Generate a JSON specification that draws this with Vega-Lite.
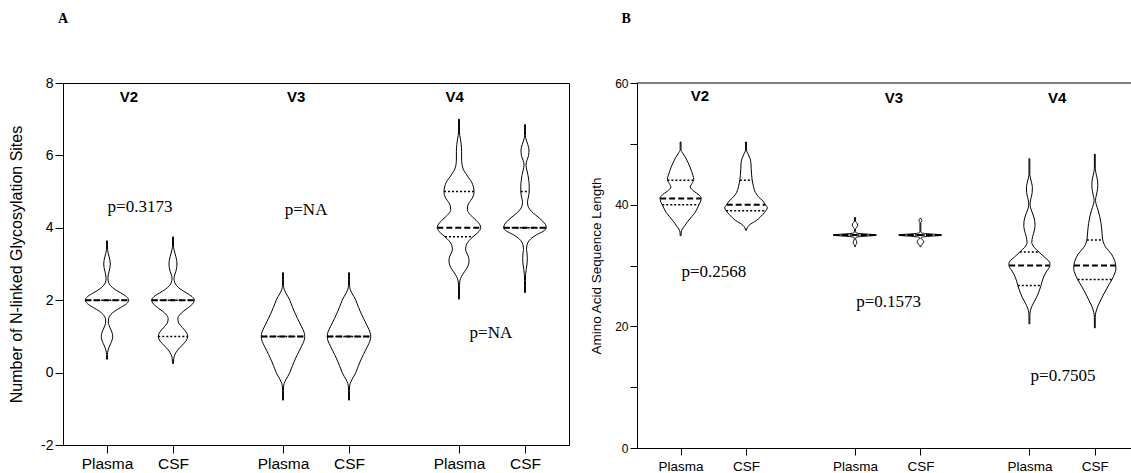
{
"$schema": "https://vega.github.io/schema/vega-lite/v6.json",
"padding": {"left": 8, "top": 11, "right": 0, "bottom": 0},
"autosize": {"type": "pad"},
"background": "white",
"config": {"font": "Liberation Sans", "view": {"stroke": null}, "axis": {"grid": false, "domainColor": "black", "tickColor": "black", "labelColor": "black", "titleColor": "black", "labelFont": "Liberation Sans", "titleFont": "Liberation Sans", "titleFontWeight": "normal", "labelOverlap": false, "labelFlush": false}},
"datasets": {
"vA": [
{"id":"a1","y":0.37,"x":1.98,"x2":2.02},{"id":"a1","y":0.5,"x":1.98,"x2":2.02},{"id":"a1","y":0.6,"x":1.958,"x2":2.042},{"id":"a1","y":0.7,"x":1.907,"x2":2.093},{"id":"a1","y":0.8,"x":1.835,"x2":2.165},{"id":"a1","y":0.9,"x":1.768,"x2":2.232},{"id":"a1","y":1.0,"x":1.741,"x2":2.259},{"id":"a1","y":1.1,"x":1.768,"x2":2.232},{"id":"a1","y":1.2,"x":1.834,"x2":2.166},{"id":"a1","y":1.3,"x":1.903,"x2":2.097},{"id":"a1","y":1.4,"x":1.941,"x2":2.059},{"id":"a1","y":1.5,"x":1.926,"x2":2.074},{"id":"a1","y":1.6,"x":1.834,"x2":2.166},{"id":"a1","y":1.7,"x":1.645,"x2":2.355},{"id":"a1","y":1.8,"x":1.373,"x2":2.627},{"id":"a1","y":1.9,"x":1.118,"x2":2.882},{"id":"a1","y":2.0,"x":1.013,"x2":2.987},{"id":"a1","y":2.1,"x":1.118,"x2":2.882},{"id":"a1","y":2.2,"x":1.373,"x2":2.627},{"id":"a1","y":2.3,"x":1.644,"x2":2.356},{"id":"a1","y":2.4,"x":1.836,"x2":2.164},{"id":"a1","y":2.5,"x":1.933,"x2":2.067},{"id":"a1","y":2.6,"x":1.959,"x2":2.041},{"id":"a1","y":2.7,"x":1.942,"x2":2.058},{"id":"a1","y":2.8,"x":1.904,"x2":2.096},{"id":"a1","y":2.9,"x":1.866,"x2":2.134},{"id":"a1","y":3.0,"x":1.85,"x2":2.15},{"id":"a1","y":3.1,"x":1.866,"x2":2.134},{"id":"a1","y":3.2,"x":1.904,"x2":2.096},{"id":"a1","y":3.3,"x":1.946,"x2":2.054},{"id":"a1","y":3.4,"x":1.975,"x2":2.025},{"id":"a1","y":3.5,"x":1.98,"x2":2.02},{"id":"a1","y":3.64,"x":1.98,"x2":2.02},
{"id":"a2","y":0.25,"x":4.98,"x2":5.02},{"id":"a2","y":0.4,"x":4.963,"x2":5.037},{"id":"a2","y":0.5,"x":4.91,"x2":5.09},{"id":"a2","y":0.6,"x":4.814,"x2":5.186},{"id":"a2","y":0.7,"x":4.674,"x2":5.326},{"id":"a2","y":0.8,"x":4.515,"x2":5.485},{"id":"a2","y":0.9,"x":4.383,"x2":5.617},{"id":"a2","y":1.0,"x":4.331,"x2":5.669},{"id":"a2","y":1.1,"x":4.381,"x2":5.619},{"id":"a2","y":1.2,"x":4.509,"x2":5.491},{"id":"a2","y":1.3,"x":4.655,"x2":5.345},{"id":"a2","y":1.4,"x":4.76,"x2":5.24},{"id":"a2","y":1.5,"x":4.779,"x2":5.221},{"id":"a2","y":1.6,"x":4.693,"x2":5.307},{"id":"a2","y":1.7,"x":4.515,"x2":5.485},{"id":"a2","y":1.8,"x":4.292,"x2":5.708},{"id":"a2","y":1.9,"x":4.105,"x2":5.895},{"id":"a2","y":2.0,"x":4.031,"x2":5.969},{"id":"a2","y":2.1,"x":4.135,"x2":5.865},{"id":"a2","y":2.2,"x":4.386,"x2":5.614},{"id":"a2","y":2.3,"x":4.65,"x2":5.35},{"id":"a2","y":2.4,"x":4.836,"x2":5.164},{"id":"a2","y":2.5,"x":4.927,"x2":5.073},{"id":"a2","y":2.6,"x":4.954,"x2":5.046},{"id":"a2","y":2.7,"x":4.927,"x2":5.073},{"id":"a2","y":2.8,"x":4.868,"x2":5.132},{"id":"a2","y":2.9,"x":4.832,"x2":5.168},{"id":"a2","y":3.0,"x":4.818,"x2":5.182},{"id":"a2","y":3.1,"x":4.832,"x2":5.168},{"id":"a2","y":3.2,"x":4.868,"x2":5.132},{"id":"a2","y":3.3,"x":4.914,"x2":5.086},{"id":"a2","y":3.4,"x":4.954,"x2":5.046},{"id":"a2","y":3.5,"x":4.977,"x2":5.023},{"id":"a2","y":3.75,"x":4.98,"x2":5.02},
{"id":"a3","y":-0.76,"x":9.98,"x2":10.02},{"id":"a3","y":-0.5,"x":9.98,"x2":10.02},{"id":"a3","y":-0.4,"x":9.975,"x2":10.025},{"id":"a3","y":-0.3,"x":9.945,"x2":10.055},{"id":"a3","y":-0.2,"x":9.873,"x2":10.127},{"id":"a3","y":-0.1,"x":9.777,"x2":10.223},{"id":"a3","y":0.0,"x":9.691,"x2":10.309},{"id":"a3","y":0.1,"x":9.627,"x2":10.373},{"id":"a3","y":0.2,"x":9.563,"x2":10.437},{"id":"a3","y":0.3,"x":9.495,"x2":10.505},{"id":"a3","y":0.4,"x":9.422,"x2":10.578},{"id":"a3","y":0.5,"x":9.345,"x2":10.655},{"id":"a3","y":0.6,"x":9.263,"x2":10.737},{"id":"a3","y":0.7,"x":9.181,"x2":10.819},{"id":"a3","y":0.8,"x":9.099,"x2":10.901},{"id":"a3","y":0.9,"x":9.035,"x2":10.965},{"id":"a3","y":1.0,"x":9.013,"x2":10.987},{"id":"a3","y":1.1,"x":9.035,"x2":10.965},{"id":"a3","y":1.2,"x":9.099,"x2":10.901},{"id":"a3","y":1.3,"x":9.181,"x2":10.819},{"id":"a3","y":1.4,"x":9.263,"x2":10.737},{"id":"a3","y":1.5,"x":9.345,"x2":10.655},{"id":"a3","y":1.6,"x":9.422,"x2":10.578},{"id":"a3","y":1.7,"x":9.495,"x2":10.505},{"id":"a3","y":1.8,"x":9.563,"x2":10.437},{"id":"a3","y":1.9,"x":9.627,"x2":10.373},{"id":"a3","y":2.0,"x":9.691,"x2":10.309},{"id":"a3","y":2.1,"x":9.777,"x2":10.223},{"id":"a3","y":2.2,"x":9.873,"x2":10.127},{"id":"a3","y":2.3,"x":9.945,"x2":10.055},{"id":"a3","y":2.4,"x":9.975,"x2":10.025},{"id":"a3","y":2.5,"x":9.98,"x2":10.02},{"id":"a3","y":2.76,"x":9.98,"x2":10.02},
{"id":"a4","y":-0.76,"x":12.98,"x2":13.02},{"id":"a4","y":-0.5,"x":12.98,"x2":13.02},{"id":"a4","y":-0.4,"x":12.975,"x2":13.025},{"id":"a4","y":-0.3,"x":12.945,"x2":13.055},{"id":"a4","y":-0.2,"x":12.873,"x2":13.127},{"id":"a4","y":-0.1,"x":12.777,"x2":13.223},{"id":"a4","y":0.0,"x":12.691,"x2":13.309},{"id":"a4","y":0.1,"x":12.627,"x2":13.373},{"id":"a4","y":0.2,"x":12.563,"x2":13.437},{"id":"a4","y":0.3,"x":12.495,"x2":13.505},{"id":"a4","y":0.4,"x":12.422,"x2":13.578},{"id":"a4","y":0.5,"x":12.345,"x2":13.655},{"id":"a4","y":0.6,"x":12.263,"x2":13.737},{"id":"a4","y":0.7,"x":12.181,"x2":13.819},{"id":"a4","y":0.8,"x":12.099,"x2":13.901},{"id":"a4","y":0.9,"x":12.035,"x2":13.965},{"id":"a4","y":1.0,"x":12.013,"x2":13.987},{"id":"a4","y":1.1,"x":12.035,"x2":13.965},{"id":"a4","y":1.2,"x":12.099,"x2":13.901},{"id":"a4","y":1.3,"x":12.181,"x2":13.819},{"id":"a4","y":1.4,"x":12.263,"x2":13.737},{"id":"a4","y":1.5,"x":12.345,"x2":13.655},{"id":"a4","y":1.6,"x":12.422,"x2":13.578},{"id":"a4","y":1.7,"x":12.495,"x2":13.505},{"id":"a4","y":1.8,"x":12.563,"x2":13.437},{"id":"a4","y":1.9,"x":12.627,"x2":13.373},{"id":"a4","y":2.0,"x":12.691,"x2":13.309},{"id":"a4","y":2.1,"x":12.777,"x2":13.223},{"id":"a4","y":2.2,"x":12.873,"x2":13.127},{"id":"a4","y":2.3,"x":12.945,"x2":13.055},{"id":"a4","y":2.4,"x":12.975,"x2":13.025},{"id":"a4","y":2.5,"x":12.98,"x2":13.02},{"id":"a4","y":2.76,"x":12.98,"x2":13.02},
{"id":"a5","y":2.03,"x":17.98,"x2":18.02},{"id":"a5","y":2.4,"x":17.98,"x2":18.02},{"id":"a5","y":2.5,"x":17.968,"x2":18.032},{"id":"a5","y":2.6,"x":17.927,"x2":18.073},{"id":"a5","y":2.7,"x":17.845,"x2":18.155},{"id":"a5","y":2.8,"x":17.736,"x2":18.264},{"id":"a5","y":2.9,"x":17.627,"x2":18.373},{"id":"a5","y":3.0,"x":17.563,"x2":18.437},{"id":"a5","y":3.1,"x":17.545,"x2":18.455},{"id":"a5","y":3.2,"x":17.572,"x2":18.428},{"id":"a5","y":3.3,"x":17.645,"x2":18.355},{"id":"a5","y":3.4,"x":17.7,"x2":18.3},{"id":"a5","y":3.5,"x":17.681,"x2":18.319},{"id":"a5","y":3.6,"x":17.6,"x2":18.4},{"id":"a5","y":3.7,"x":17.454,"x2":18.546},{"id":"a5","y":3.8,"x":17.272,"x2":18.728},{"id":"a5","y":3.9,"x":17.09,"x2":18.91},{"id":"a5","y":4.0,"x":17.013,"x2":18.987},{"id":"a5","y":4.1,"x":17.067,"x2":18.933},{"id":"a5","y":4.2,"x":17.213,"x2":18.787},{"id":"a5","y":4.3,"x":17.386,"x2":18.614},{"id":"a5","y":4.4,"x":17.545,"x2":18.455},{"id":"a5","y":4.5,"x":17.618,"x2":18.382},{"id":"a5","y":4.6,"x":17.609,"x2":18.391},{"id":"a5","y":4.7,"x":17.531,"x2":18.469},{"id":"a5","y":4.8,"x":17.418,"x2":18.582},{"id":"a5","y":4.9,"x":17.34,"x2":18.66},{"id":"a5","y":5.0,"x":17.317,"x2":18.683},{"id":"a5","y":5.1,"x":17.336,"x2":18.664},{"id":"a5","y":5.2,"x":17.381,"x2":18.619},{"id":"a5","y":5.3,"x":17.463,"x2":18.537},{"id":"a5","y":5.4,"x":17.581,"x2":18.419},{"id":"a5","y":5.5,"x":17.691,"x2":18.309},{"id":"a5","y":5.62,"x":17.809,"x2":18.191},{"id":"a5","y":5.75,"x":17.863,"x2":18.137},{"id":"a5","y":5.9,"x":17.882,"x2":18.118},{"id":"a5","y":6.1,"x":17.882,"x2":18.118},{"id":"a5","y":6.3,"x":17.9,"x2":18.1},{"id":"a5","y":6.45,"x":17.932,"x2":18.068},{"id":"a5","y":6.55,"x":17.964,"x2":18.036},{"id":"a5","y":6.65,"x":17.98,"x2":18.02},{"id":"a5","y":7.0,"x":17.98,"x2":18.02},
{"id":"a6","y":2.21,"x":20.98,"x2":21.02},{"id":"a6","y":2.55,"x":20.98,"x2":21.02},{"id":"a6","y":2.7,"x":20.973,"x2":21.027},{"id":"a6","y":2.85,"x":20.945,"x2":21.055},{"id":"a6","y":3.0,"x":20.909,"x2":21.091},{"id":"a6","y":3.15,"x":20.895,"x2":21.105},{"id":"a6","y":3.3,"x":20.909,"x2":21.091},{"id":"a6","y":3.4,"x":20.932,"x2":21.068},{"id":"a6","y":3.5,"x":20.918,"x2":21.082},{"id":"a6","y":3.6,"x":20.863,"x2":21.137},{"id":"a6","y":3.7,"x":20.727,"x2":21.273},{"id":"a6","y":3.8,"x":20.499,"x2":21.501},{"id":"a6","y":3.9,"x":20.181,"x2":21.819},{"id":"a6","y":4.0,"x":20.031,"x2":21.969},{"id":"a6","y":4.1,"x":20.076,"x2":21.924},{"id":"a6","y":4.2,"x":20.226,"x2":21.774},{"id":"a6","y":4.3,"x":20.408,"x2":21.592},{"id":"a6","y":4.4,"x":20.613,"x2":21.387},{"id":"a6","y":4.5,"x":20.772,"x2":21.228},{"id":"a6","y":4.6,"x":20.863,"x2":21.137},{"id":"a6","y":4.72,"x":20.886,"x2":21.114},{"id":"a6","y":4.85,"x":20.845,"x2":21.155},{"id":"a6","y":5.0,"x":20.809,"x2":21.191},{"id":"a6","y":5.15,"x":20.809,"x2":21.191},{"id":"a6","y":5.3,"x":20.827,"x2":21.173},{"id":"a6","y":5.45,"x":20.863,"x2":21.137},{"id":"a6","y":5.6,"x":20.918,"x2":21.082},{"id":"a6","y":5.72,"x":20.954,"x2":21.046},{"id":"a6","y":5.8,"x":20.945,"x2":21.055},{"id":"a6","y":5.9,"x":20.891,"x2":21.109},{"id":"a6","y":6.0,"x":20.836,"x2":21.164},{"id":"a6","y":6.15,"x":20.818,"x2":21.182},{"id":"a6","y":6.3,"x":20.873,"x2":21.127},{"id":"a6","y":6.45,"x":20.954,"x2":21.046},{"id":"a6","y":6.55,"x":20.98,"x2":21.02},{"id":"a6","y":6.85,"x":20.98,"x2":21.02}
],
"qA": [
{"id":"a1","y":2,"x":1.013,"x2":2.987},{"id":"a2","y":1,"x":4.331,"x2":5.669},{"id":"a2","y":2,"x":4.031,"x2":5.969},{"id":"a3","y":1,"x":9.013,"x2":10.987},{"id":"a4","y":1,"x":12.013,"x2":13.987},{"id":"a5","y":3.75,"x":17.363,"x2":18.637},{"id":"a5","y":5,"x":17.317,"x2":18.683},{"id":"a6","y":4,"x":20.031,"x2":21.969},{"id":"a6","y":5,"x":20.809,"x2":21.191}
],
"mA": [
{"id":"a1","y":2,"x":1.013,"x2":2.987},{"id":"a2","y":2,"x":4.031,"x2":5.969},{"id":"a3","y":1,"x":9.013,"x2":10.987},{"id":"a4","y":1,"x":12.013,"x2":13.987},{"id":"a5","y":4,"x":17.013,"x2":18.987},{"id":"a6","y":4,"x":20.031,"x2":21.969}
],
"vB": [
{"id":"b1","y":34.9,"x":1.98,"x2":2.02},{"id":"b1","y":35.5,"x":1.973,"x2":2.027},{"id":"b1","y":36.0,"x":1.918,"x2":2.082},{"id":"b1","y":36.5,"x":1.818,"x2":2.182},{"id":"b1","y":37.2,"x":1.681,"x2":2.319},{"id":"b1","y":38.0,"x":1.499,"x2":2.501},{"id":"b1","y":38.7,"x":1.34,"x2":2.66},{"id":"b1","y":39.3,"x":1.249,"x2":2.751},{"id":"b1","y":40.0,"x":1.158,"x2":2.842},{"id":"b1","y":40.6,"x":1.076,"x2":2.924},{"id":"b1","y":41.1,"x":1.058,"x2":2.942},{"id":"b1","y":41.6,"x":1.158,"x2":2.842},{"id":"b1","y":42.2,"x":1.386,"x2":2.614},{"id":"b1","y":42.9,"x":1.554,"x2":2.446},{"id":"b1","y":43.5,"x":1.477,"x2":2.523},{"id":"b1","y":44.1,"x":1.395,"x2":2.605},{"id":"b1","y":44.8,"x":1.431,"x2":2.569},{"id":"b1","y":45.5,"x":1.499,"x2":2.501},{"id":"b1","y":46.2,"x":1.568,"x2":2.432},{"id":"b1","y":47.0,"x":1.668,"x2":2.332},{"id":"b1","y":47.8,"x":1.782,"x2":2.218},{"id":"b1","y":48.5,"x":1.909,"x2":2.091},{"id":"b1","y":49.0,"x":1.98,"x2":2.02},{"id":"b1","y":50.3,"x":1.98,"x2":2.02},
{"id":"b2","y":35.8,"x":4.98,"x2":5.02},{"id":"b2","y":36.2,"x":4.945,"x2":5.055},{"id":"b2","y":36.6,"x":4.863,"x2":5.137},{"id":"b2","y":37.0,"x":4.704,"x2":5.296},{"id":"b2","y":37.4,"x":4.522,"x2":5.478},{"id":"b2","y":37.9,"x":4.363,"x2":5.637},{"id":"b2","y":38.4,"x":4.226,"x2":5.774},{"id":"b2","y":39.0,"x":4.09,"x2":5.91},{"id":"b2","y":39.5,"x":4.022,"x2":5.978},{"id":"b2","y":40.0,"x":4.113,"x2":5.887},{"id":"b2","y":40.6,"x":4.226,"x2":5.774},{"id":"b2","y":41.3,"x":4.431,"x2":5.569},{"id":"b2","y":42.0,"x":4.568,"x2":5.432},{"id":"b2","y":43.0,"x":4.659,"x2":5.341},{"id":"b2","y":44.1,"x":4.718,"x2":5.282},{"id":"b2","y":45.0,"x":4.745,"x2":5.255},{"id":"b2","y":46.0,"x":4.763,"x2":5.237},{"id":"b2","y":46.8,"x":4.772,"x2":5.228},{"id":"b2","y":47.6,"x":4.818,"x2":5.182},{"id":"b2","y":48.4,"x":4.918,"x2":5.082},{"id":"b2","y":49.0,"x":4.98,"x2":5.02},{"id":"b2","y":50.3,"x":4.98,"x2":5.02},
{"id":"b3","y":33.1,"x":9.98,"x2":10.02},{"id":"b3","y":33.3,"x":9.977,"x2":10.023},{"id":"b3","y":33.5,"x":9.945,"x2":10.055},{"id":"b3","y":33.75,"x":9.918,"x2":10.082},{"id":"b3","y":34.0,"x":9.927,"x2":10.073},{"id":"b3","y":34.2,"x":9.959,"x2":10.041},{"id":"b3","y":34.45,"x":9.973,"x2":10.027},{"id":"b3","y":34.6,"x":9.959,"x2":10.041},{"id":"b3","y":34.7,"x":9.868,"x2":10.132},{"id":"b3","y":34.8,"x":9.595,"x2":10.405},{"id":"b3","y":34.9,"x":9.208,"x2":10.792},{"id":"b3","y":35.0,"x":9.013,"x2":10.987},{"id":"b3","y":35.1,"x":9.208,"x2":10.792},{"id":"b3","y":35.2,"x":9.595,"x2":10.405},{"id":"b3","y":35.3,"x":9.868,"x2":10.132},{"id":"b3","y":35.4,"x":9.959,"x2":10.041},{"id":"b3","y":35.6,"x":9.973,"x2":10.027},{"id":"b3","y":35.9,"x":9.98,"x2":10.02},{"id":"b3","y":36.1,"x":9.964,"x2":10.036},{"id":"b3","y":36.35,"x":9.909,"x2":10.091},{"id":"b3","y":36.6,"x":9.877,"x2":10.123},{"id":"b3","y":36.85,"x":9.886,"x2":10.114},{"id":"b3","y":37.1,"x":9.945,"x2":10.055},{"id":"b3","y":37.3,"x":9.98,"x2":10.02},{"id":"b3","y":37.9,"x":9.98,"x2":10.02},
{"id":"b4","y":33.1,"x":12.98,"x2":13.02},{"id":"b4","y":33.25,"x":12.977,"x2":13.023},{"id":"b4","y":33.4,"x":12.941,"x2":13.059},{"id":"b4","y":33.6,"x":12.882,"x2":13.118},{"id":"b4","y":33.85,"x":12.85,"x2":13.15},{"id":"b4","y":34.1,"x":12.868,"x2":13.132},{"id":"b4","y":34.3,"x":12.932,"x2":13.068},{"id":"b4","y":34.45,"x":12.973,"x2":13.027},{"id":"b4","y":34.6,"x":12.959,"x2":13.041},{"id":"b4","y":34.7,"x":12.868,"x2":13.132},{"id":"b4","y":34.8,"x":12.595,"x2":13.405},{"id":"b4","y":34.9,"x":12.208,"x2":13.792},{"id":"b4","y":35.0,"x":12.013,"x2":13.987},{"id":"b4","y":35.1,"x":12.208,"x2":13.792},{"id":"b4","y":35.2,"x":12.595,"x2":13.405},{"id":"b4","y":35.3,"x":12.868,"x2":13.132},{"id":"b4","y":35.4,"x":12.959,"x2":13.041},{"id":"b4","y":35.5,"x":12.98,"x2":13.02},{"id":"b4","y":37.05,"x":12.98,"x2":13.02},{"id":"b4","y":37.2,"x":12.954,"x2":13.046},{"id":"b4","y":37.4,"x":12.936,"x2":13.064},{"id":"b4","y":37.6,"x":12.954,"x2":13.046},{"id":"b4","y":37.75,"x":12.98,"x2":13.02},
{"id":"b5","y":20.4,"x":17.98,"x2":18.02},{"id":"b5","y":21.8,"x":17.98,"x2":18.02},{"id":"b5","y":22.6,"x":17.954,"x2":18.046},{"id":"b5","y":23.0,"x":17.918,"x2":18.082},{"id":"b5","y":23.8,"x":17.818,"x2":18.182},{"id":"b5","y":24.8,"x":17.668,"x2":18.332},{"id":"b5","y":25.8,"x":17.554,"x2":18.446},{"id":"b5","y":26.7,"x":17.468,"x2":18.532},{"id":"b5","y":27.4,"x":17.418,"x2":18.582},{"id":"b5","y":28.1,"x":17.349,"x2":18.651},{"id":"b5","y":29.1,"x":17.204,"x2":18.796},{"id":"b5","y":29.8,"x":17.076,"x2":18.924},{"id":"b5","y":30.3,"x":17.058,"x2":18.942},{"id":"b5","y":30.8,"x":17.126,"x2":18.874},{"id":"b5","y":31.4,"x":17.317,"x2":18.683},{"id":"b5","y":32.2,"x":17.559,"x2":18.441},{"id":"b5","y":33.0,"x":17.782,"x2":18.218},{"id":"b5","y":33.8,"x":17.891,"x2":18.109},{"id":"b5","y":34.8,"x":17.85,"x2":18.15},{"id":"b5","y":35.8,"x":17.772,"x2":18.228},{"id":"b5","y":36.6,"x":17.741,"x2":18.259},{"id":"b5","y":37.3,"x":17.754,"x2":18.246},{"id":"b5","y":38.3,"x":17.827,"x2":18.173},{"id":"b5","y":39.3,"x":17.932,"x2":18.068},{"id":"b5","y":39.9,"x":17.968,"x2":18.032},{"id":"b5","y":40.4,"x":17.964,"x2":18.036},{"id":"b5","y":41.2,"x":17.918,"x2":18.082},{"id":"b5","y":42.0,"x":17.873,"x2":18.127},{"id":"b5","y":42.8,"x":17.863,"x2":18.137},{"id":"b5","y":43.6,"x":17.9,"x2":18.1},{"id":"b5","y":44.4,"x":17.954,"x2":18.046},{"id":"b5","y":45.0,"x":17.98,"x2":18.02},{"id":"b5","y":47.55,"x":17.98,"x2":18.02},
{"id":"b6","y":19.75,"x":20.98,"x2":21.02},{"id":"b6","y":21.5,"x":20.98,"x2":21.02},{"id":"b6","y":22.3,"x":20.954,"x2":21.046},{"id":"b6","y":23.0,"x":20.895,"x2":21.105},{"id":"b6","y":24.0,"x":20.772,"x2":21.228},{"id":"b6","y":25.3,"x":20.59,"x2":21.41},{"id":"b6","y":26.5,"x":20.408,"x2":21.592},{"id":"b6","y":27.7,"x":20.213,"x2":21.787},{"id":"b6","y":28.6,"x":20.099,"x2":21.901},{"id":"b6","y":29.45,"x":20.031,"x2":21.969},{"id":"b6","y":30.1,"x":20.044,"x2":21.956},{"id":"b6","y":30.8,"x":20.09,"x2":21.91},{"id":"b6","y":31.9,"x":20.24,"x2":21.76},{"id":"b6","y":33.0,"x":20.499,"x2":21.501},{"id":"b6","y":34.2,"x":20.636,"x2":21.364},{"id":"b6","y":35.5,"x":20.672,"x2":21.328},{"id":"b6","y":36.9,"x":20.713,"x2":21.287},{"id":"b6","y":38.0,"x":20.772,"x2":21.228},{"id":"b6","y":39.0,"x":20.841,"x2":21.159},{"id":"b6","y":40.0,"x":20.932,"x2":21.068},{"id":"b6","y":40.7,"x":20.968,"x2":21.032},{"id":"b6","y":41.3,"x":20.945,"x2":21.055},{"id":"b6","y":42.2,"x":20.891,"x2":21.109},{"id":"b6","y":43.2,"x":20.863,"x2":21.137},{"id":"b6","y":44.2,"x":20.886,"x2":21.114},{"id":"b6","y":45.3,"x":20.954,"x2":21.046},{"id":"b6","y":46.0,"x":20.98,"x2":21.02},{"id":"b6","y":48.3,"x":20.98,"x2":21.02}
],
"qB": [
{"id":"b1","y":40,"x":1.158,"x2":2.842},{"id":"b1","y":44,"x":1.395,"x2":2.605},{"id":"b2","y":39,"x":4.09,"x2":5.91},{"id":"b2","y":44,"x":4.718,"x2":5.282},{"id":"b3","y":35,"x":9.013,"x2":10.987},{"id":"b4","y":35,"x":12.013,"x2":13.987},{"id":"b5","y":26.7,"x":17.468,"x2":18.532},{"id":"b5","y":32.2,"x":17.559,"x2":18.441},{"id":"b6","y":27.7,"x":20.213,"x2":21.787},{"id":"b6","y":34.2,"x":20.636,"x2":21.364}
],
"mB": [
{"id":"b1","y":41,"x":1.063,"x2":2.937},{"id":"b2","y":40,"x":4.113,"x2":5.887},{"id":"b3","y":35,"x":9.013,"x2":10.987},{"id":"b4","y":35,"x":12.013,"x2":13.987},{"id":"b5","y":30,"x":17.07,"x2":18.93},{"id":"b6","y":30,"x":20.044,"x2":21.956}
]
},
"hconcat": [
{
"width": 506, "height": 362,
"view": {"stroke": "black", "strokeWidth": 1},
"encoding": {
"x": {"field": "x", "type": "quantitative", "scale": {"domain": [0, 23], "nice": false, "zero": false},
"axis": {"values": [2, 5, 10, 13, 18, 21], "labelExpr": "(datum.value == 2 || datum.value == 10 || datum.value == 18) ? 'Plasma' : 'CSF'", "title": null, "tickSize": 8, "labelFontSize": 15.5, "labelPadding": 3}},
"y": {"field": "y", "type": "quantitative", "scale": {"domain": [-2, 8], "nice": false, "zero": false},
"axis": {"values": [-2, 0, 2, 4, 6, 8], "labelExpr": "'' + datum.value", "title": "Number of N-linked Glycosylation Sites", "titleFontSize": 16, "titlePadding": 16, "labelFontSize": 14, "tickSize": 8, "labelPadding": 2}}
},
"layer": [
{"data": {"name": "vA"}, "mark": {"type": "area", "orient": "horizontal", "interpolate": "monotone", "fill": "white", "stroke": "black", "strokeWidth": 1}, "encoding": {"x2": {"field": "x2"}, "detail": {"field": "id", "type": "nominal"}}},
{"data": {"name": "qA"}, "mark": {"type": "rule", "color": "black", "strokeWidth": 1.5, "strokeDash": [2, 2]}, "encoding": {"x2": {"field": "x2"}}},
{"data": {"name": "mA"}, "mark": {"type": "rule", "color": "black", "strokeWidth": 2, "strokeDash": [6, 3]}, "encoding": {"x2": {"field": "x2"}}},
{"data": {"values": [{"t": "V2", "x": 3.0, "y": 7.62}, {"t": "V3", "x": 10.6, "y": 7.62}, {"t": "V4", "x": 17.8, "y": 7.62}]}, "mark": {"type": "text", "font": "Liberation Sans", "fontWeight": "bold", "fontSize": 15, "color": "black", "baseline": "middle", "align": "center"}, "encoding": {"text": {"field": "t"}}},
{"data": {"values": [{"t": "p=0.3173", "x": 3.5, "y": 4.58}, {"t": "p=NA", "x": 11.05, "y": 4.5}, {"t": "p=NA", "x": 19.45, "y": 1.1}]}, "mark": {"type": "text", "font": "Liberation Serif", "fontSize": 17, "color": "black", "baseline": "middle", "align": "center"}, "encoding": {"text": {"field": "t"}}},
{"data": {"values": [{"t": "A", "x": 0.0, "y": 9.78}]}, "mark": {"type": "text", "font": "Liberation Serif", "fontWeight": "bold", "fontSize": 14, "color": "black", "baseline": "middle", "align": "center"}, "encoding": {"text": {"field": "t"}}}
]
},
{
"width": 494, "height": 365,
"encoding": {
"x": {"field": "x", "type": "quantitative", "scale": {"domain": [0, 22.66], "nice": false, "zero": false},
"axis": {"values": [2, 5, 10, 13, 18, 21], "labelExpr": "(datum.value == 2 || datum.value == 10 || datum.value == 18) ? 'Plasma' : 'CSF'", "title": null, "tickSize": 7, "labelFontSize": 13.5, "labelPadding": 4}},
"y": {"field": "y", "type": "quantitative", "scale": {"domain": [0, 60], "nice": false, "zero": false},
"axis": {"values": [0, 10, 20, 30, 40, 50, 60], "labelExpr": "datum.value % 20 == 0 ? '' + datum.value : ''", "title": "Amino Acid Sequence Length", "titleFontSize": 13.5, "titlePadding": 11, "labelFontSize": 12, "tickSize": 7, "labelPadding": 2}}
},
"layer": [
{"data": {"values": [{"x": 0, "x2": 22.66, "y": 60}]}, "mark": {"type": "rule", "color": "black", "strokeWidth": 1}, "encoding": {"x2": {"field": "x2"}}},
{"data": {"name": "vB"}, "mark": {"type": "area", "orient": "horizontal", "interpolate": "monotone", "fill": "white", "stroke": "black", "strokeWidth": 1}, "encoding": {"x2": {"field": "x2"}, "detail": {"field": "id", "type": "nominal"}}},
{"data": {"name": "qB"}, "mark": {"type": "rule", "color": "black", "strokeWidth": 1.5, "strokeDash": [2, 2]}, "encoding": {"x2": {"field": "x2"}}},
{"data": {"name": "mB"}, "mark": {"type": "rule", "color": "black", "strokeWidth": 2, "strokeDash": [6, 3]}, "encoding": {"x2": {"field": "x2"}}},
{"data": {"values": [{"t": "V2", "x": 2.89, "y": 57.8}, {"t": "V3", "x": 11.79, "y": 57.6}, {"t": "V4", "x": 19.27, "y": 57.6}]}, "mark": {"type": "text", "font": "Liberation Sans", "fontWeight": "bold", "fontSize": 15, "color": "black", "baseline": "middle", "align": "center"}, "encoding": {"text": {"field": "t"}}},
{"data": {"values": [{"t": "p=0.2568", "x": 3.53, "y": 29.0}, {"t": "p=0.1573", "x": 11.54, "y": 24.07}, {"t": "p=0.7505", "x": 19.54, "y": 11.9}]}, "mark": {"type": "text", "font": "Liberation Serif", "fontSize": 17, "color": "black", "baseline": "middle", "align": "center"}, "encoding": {"text": {"field": "t"}}},
{"data": {"values": [{"t": "B", "x": -0.5, "y": 70.6}]}, "mark": {"type": "text", "font": "Liberation Serif", "fontWeight": "bold", "fontSize": 14, "color": "black", "baseline": "middle", "align": "center"}, "encoding": {"text": {"field": "t"}}}
]
}
],
"spacing": 68,
"bounds": "flush"
}
